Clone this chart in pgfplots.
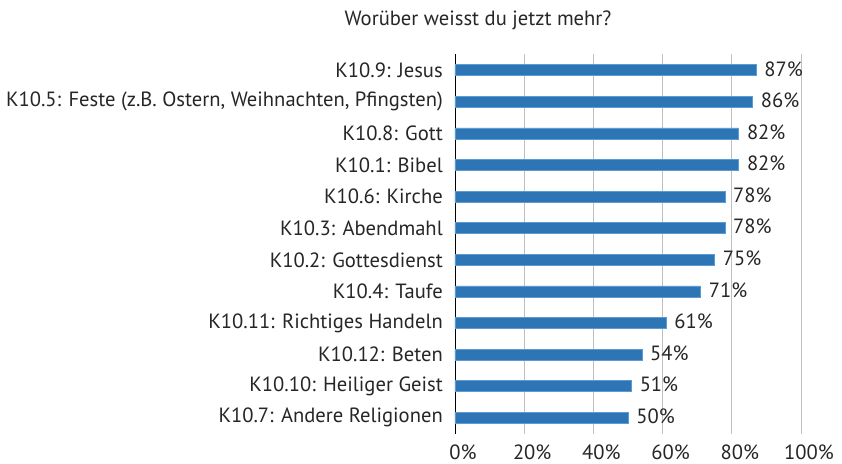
\documentclass[border=0pt]{standalone}
\usepackage{pgfplots}
\pgfplotsset{compat=1.18}
\usepackage{fontspec}
\setmainfont{PT Sans}
\definecolor{barblue}{HTML}{2E75B6}
\definecolor{baredge}{HTML}{5B9BD5}
\definecolor{txt}{HTML}{262626}
\definecolor{gridgray}{HTML}{BFBFBF}
\begin{document}
\begin{tikzpicture}
\begin{axis}[
  at={(0,0)}, anchor=south west,
  scale only axis,
  width=346bp, height=379bp,
  xbar, bar width=11bp,
  xmin=0, xmax=100, ymin=-0.5, ymax=11.5,
  axis x line*=bottom,
  x axis line style={draw=none},
  axis y line*=left,
  y axis line style={draw=black, line width=0.8bp},
  xtick={0,20,40,60,80,100},
  xticklabel={\pgfmathprintnumber{\tick}\%},
  /pgf/number format/assume math mode=true,
  major tick length=0pt,
  xmajorgrids, grid style={gridgray, line width=0.9bp},
  ytick={0,...,11},
  yticklabels={K10.7: Andere Religionen, K10.10: Heiliger Geist, K10.12: Beten, K10.11: Richtiges Handeln, K10.4: Taufe, K10.2: Gottesdienst, K10.3: Abendmahl, K10.6: Kirche, K10.1: Bibel, K10.8: Gott, {K10.5: Feste (z.B. Ostern, Weihnachten, Pfingsten)}, K10.9: Jesus},
  yticklabel style={font=\fontsize{20.6bp}{24bp}\selectfont, text=txt, inner sep=0pt, anchor=east, xshift=-12bp},
  xticklabel style={font=\fontsize{20.6bp}{24bp}\selectfont, text=txt, inner sep=0pt, anchor=north, xshift=8bp, yshift=-11bp},
  nodes near coords={\pgfmathprintnumber{\pgfplotspointmeta}\%},
  point meta=x,
  nodes near coords style={font=\fontsize{20.6bp}{24bp}\selectfont, text=txt, inner sep=0pt, anchor=west, xshift=8bp, yshift=1.5bp},
  clip=false,
]
\addplot[fill=barblue, draw=baredge, line width=0.6bp] coordinates {
  (50,0) (51,1) (54,2) (61,3) (71,4) (75,5) (78,6) (78,7) (82,8) (82,9) (86,10) (87,11)
};
\end{axis}
\node[anchor=base, text=txt, font=\fontsize{20.6bp}{24bp}\selectfont] at (23bp,407.5bp) {Worüber weisst du jetzt mehr?};
\pgfresetboundingbox
\path (-455bp,-30.5bp) rectangle (387bp,433.5bp);
\end{tikzpicture}
\end{document}
